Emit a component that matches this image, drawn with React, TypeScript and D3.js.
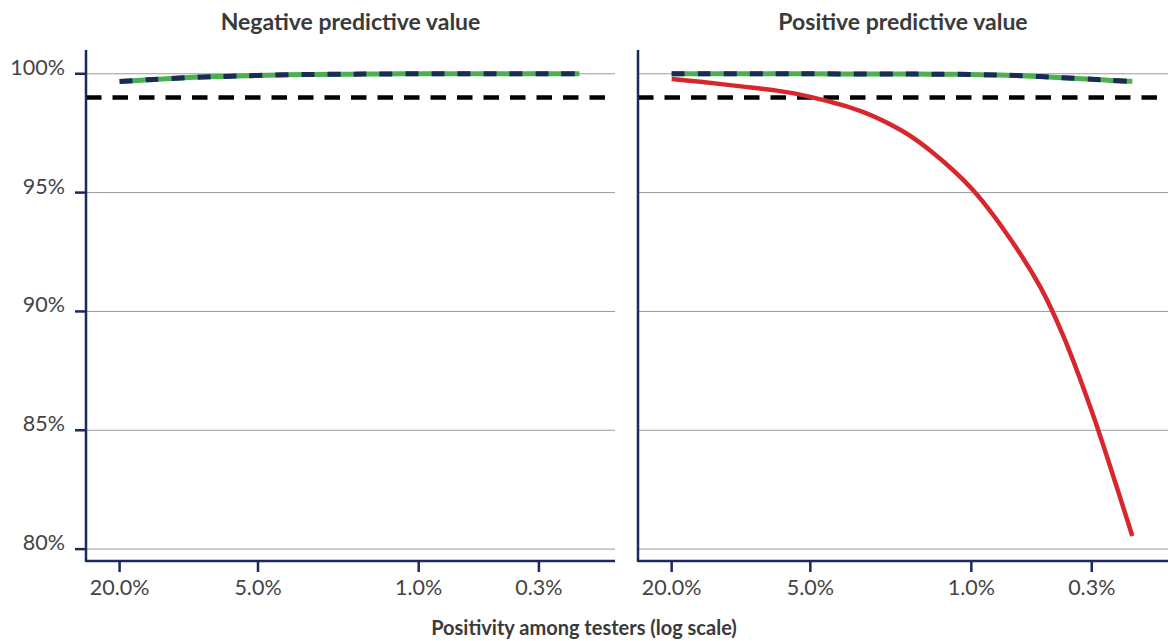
import React, { useEffect, useRef } from 'react';
import * as d3 from 'd3';

// positivity among testers (%), shared by all series
const positivity = [20, 15, 10, 7, 5, 3, 2, 1.5, 1, 0.7, 0.5, 0.4, 0.3, 0.25, 0.2];

// negative predictive value (%)
const npvA = [99.67, 99.75, 99.84, 99.89, 99.93, 99.97, 99.98, 99.99, 100, 100, 100, 100, 100, 100, 100];

// positive predictive value (%)
const ppvA = [100, 100, 100, 100, 100, 99.99, 99.99, 99.98, 99.97, 99.94, 99.88, 99.83, 99.77, 99.72, 99.68];
const ppvB = [99.78, 99.66, 99.47, 99.29, 99.03, 98.42, 97.6, 96.75, 95.18, 93.25, 91.0, 89.0, 85.8, 83.5, 80.55];

const yTicks = [80, 85, 90, 95, 100];
const xTicks = [20, 5, 1, 0.3];
const target = 99;

const panelTitles = ['Negative predictive value', 'Positive predictive value'];
const xTitle = 'Positivity among testers (log scale)';

const NAVY = '#1c2a5a';
const GREEN = '#4caf50';
const RED = '#d7262d';
const FONT = 'Lato, "Noto Sans", sans-serif';

export default function App() {
  const svgRef = useRef<SVGSVGElement | null>(null);

  useEffect(() => {
    if (!svgRef.current) return;
    const width = 1168;
    const height = 641;
    const svg = d3.select(svgRef.current);
    svg.selectAll('*').remove();
    svg.attr('width', width).attr('height', height);

    const y = d3.scaleLinear().domain([79.5, 101]).range([561, 50]);

    const panels = [
      { x0: 86, x1: 615, series: [{ values: npvA, kind: 'dash' }], labels: true },
      {
        x0: 638,
        x1: 1168,
        series: [
          { values: ppvB, kind: 'red' },
          { values: ppvA, kind: 'dash' }
        ],
        labels: false
      }
    ];

    panels.forEach((p, i) => {
      const x = d3.scaleLog().domain([28, 0.14]).range([p.x0, p.x1]);
      const g = svg.append('g');

      // gridlines
      g.selectAll('.grid')
        .data(yTicks)
        .enter()
        .append('line')
        .attr('x1', p.x0)
        .attr('x2', p.x1)
        .attr('y1', d => y(d))
        .attr('y2', d => y(d))
        .attr('stroke', '#9a9a9a')
        .attr('stroke-width', 1);

      // y ticks + labels on the first panel only
      if (p.labels) {
        g.selectAll('.ytick')
          .data(yTicks)
          .enter()
          .append('line')
          .attr('x1', p.x0 - 11)
          .attr('x2', p.x0)
          .attr('y1', d => y(d))
          .attr('y2', d => y(d))
          .attr('stroke', NAVY)
          .attr('stroke-width', 2.5);

        g.selectAll('.ylabel')
          .data(yTicks)
          .enter()
          .append('text')
          .attr('x', 65)
          .attr('y', d => y(d) + 1)
          .attr('text-anchor', 'end')
          .attr('font-family', FONT)
          .attr('font-size', 21.5)
          .attr('fill', '#444')
          .text(d => `${d}%`);
      }

      // target line
      g.append('line')
        .attr('x1', p.x0)
        .attr('x2', p.x1)
        .attr('y1', y(target))
        .attr('y2', y(target))
        .attr('stroke', '#000')
        .attr('stroke-width', 4.5)
        .attr('stroke-dasharray', '15.5,11');

      const line = d3
        .line<number>()
        .x((_, k) => x(positivity[k]))
        .y(d => y(d))
        .curve(d3.curveCatmullRom.alpha(0.5));

      p.series.forEach(s => {
        if (s.kind === 'red') {
          g.append('path')
            .attr('d', line(s.values))
            .attr('fill', 'none')
            .attr('stroke', RED)
            .attr('stroke-width', 4.5);
        } else {
          g.append('path')
            .attr('d', line(s.values))
            .attr('fill', 'none')
            .attr('stroke', GREEN)
            .attr('stroke-width', 5);
          g.append('path')
            .attr('d', line(s.values))
            .attr('fill', 'none')
            .attr('stroke', NAVY)
            .attr('stroke-width', 5)
            .attr('stroke-dasharray', '13,13');
        }
      });

      // axes
      g.append('line')
        .attr('x1', p.x0)
        .attr('x2', p.x0)
        .attr('y1', 50)
        .attr('y2', 562)
        .attr('stroke', NAVY)
        .attr('stroke-width', 2.5);
      g.append('line')
        .attr('x1', p.x0)
        .attr('x2', p.x1)
        .attr('y1', 561)
        .attr('y2', 561)
        .attr('stroke', NAVY)
        .attr('stroke-width', 2.5);

      g.selectAll('.xtick')
        .data(xTicks)
        .enter()
        .append('line')
        .attr('x1', d => x(d))
        .attr('x2', d => x(d))
        .attr('y1', 561)
        .attr('y2', 572)
        .attr('stroke', NAVY)
        .attr('stroke-width', 2.5);

      g.selectAll('.xlabel')
        .data(xTicks)
        .enter()
        .append('text')
        .attr('x', d => x(d))
        .attr('y', 595)
        .attr('text-anchor', 'middle')
        .attr('font-family', FONT)
        .attr('font-size', 21.5)
        .attr('fill', '#444')
        .text(d => `${d.toFixed(1)}%`);

      g.append('text')
        .attr('x', (p.x0 + p.x1) / 2)
        .attr('y', 30)
        .attr('text-anchor', 'middle')
        .attr('font-family', FONT)
        .attr('font-size', 23)
        .attr('font-weight', 'bold')
        .attr('fill', '#3a3a3a')
        .text(panelTitles[i]);
    });

    svg.append('text')
      .attr('x', 584)
      .attr('y', 635)
      .attr('text-anchor', 'middle')
      .attr('font-family', FONT)
      .attr('font-size', 20)
      .attr('font-weight', 'bold')
      .attr('fill', '#3a3a3a')
      .text(xTitle);
  }, []);

  return (
    <div style={{ position: 'absolute', left: 0, top: 0 }}>
      <svg ref={svgRef} style={{ display: 'block' }} />
    </div>
  );
}
